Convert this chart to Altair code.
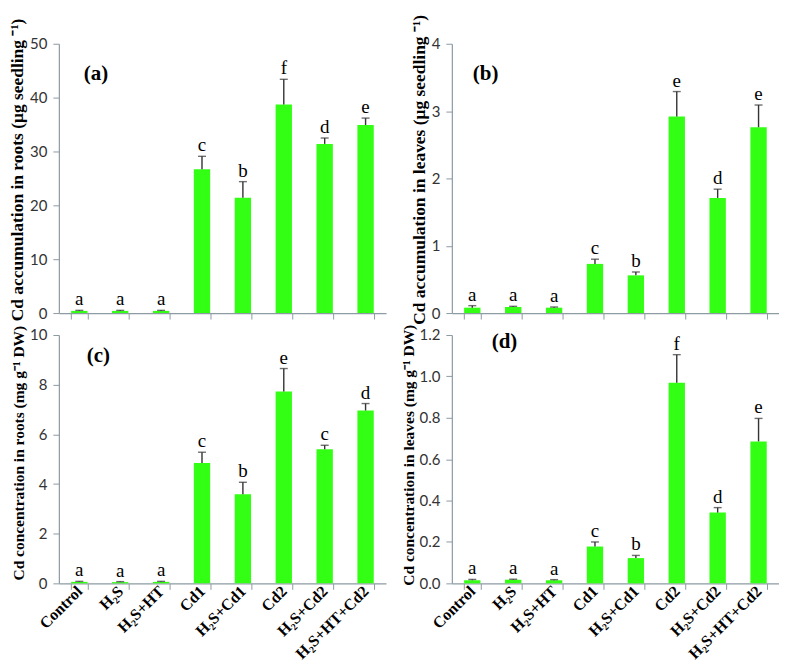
import altair as alt
import pandas as pd

categories = ["Control", "H₂S", "H₂S+HT", "Cd1", "H₂S+Cd1", "Cd2", "H₂S+Cd2", "H₂S+HT+Cd2"]

a_mean = [0.4, 0.4, 0.4, 26.7, 21.4, 38.7, 31.4, 34.9]
a_se = [0.1, 0.1, 0.1, 2.4, 3.0, 4.7, 1.1, 1.3]
a_letters = ["a", "a", "a", "c", "b", "f", "d", "e"]

b_mean = [0.08, 0.09, 0.08, 0.73, 0.56, 2.92, 1.71, 2.76]
b_se = [0.03, 0.01, 0.01, 0.07, 0.05, 0.37, 0.13, 0.33]
b_letters = ["a", "a", "a", "c", "b", "e", "d", "e"]

c_mean = [0.06, 0.05, 0.06, 4.85, 3.59, 7.73, 5.40, 6.96]
c_se = [0.02, 0.02, 0.02, 0.43, 0.48, 0.92, 0.16, 0.28]
c_letters = ["a", "a", "a", "c", "b", "e", "c", "d"]

d_mean = [0.015, 0.018, 0.015, 0.178, 0.122, 0.969, 0.342, 0.686]
d_se = [0.004, 0.002, 0.003, 0.022, 0.013, 0.136, 0.024, 0.111]
d_letters = ["a", "a", "a", "c", "b", "f", "d", "e"]

BAR = "#33ff14"
AXIS_GRAY = "#8d9ba3"
W = 328
H_TOP = 270
H_BOT = 249


def panel(mean, se, letters, title, tsize, ty, domain, ticks, fmt, label, show_labels,
          height, lx, ly):
    df = pd.DataFrame({
        "cat": categories,
        "mean": mean,
        "top": [m + s for m, s in zip(mean, se)],
        "letter": letters,
    })
    xaxis = alt.Axis(
        title=None,
        labels=show_labels,
        labelAngle=-45,
        labelAlign="right",
        labelBaseline="middle",
        tickBand="extent",
        labelFont="Liberation Serif",
        labelFontWeight="bold",
        labelFontSize=16,
        labelColor="black",
        labelPadding=-1,
        labelOverlap=False,
        labelLimit=300,
    )
    x = alt.X("cat:N", sort=categories,
              scale=alt.Scale(paddingInner=0.6, paddingOuter=0.3), axis=xaxis)
    yscale = alt.Scale(domain=domain, nice=False, zero=True)
    yaxis = alt.Axis(title=title, titleFontSize=tsize, titleY=ty, values=ticks, format=fmt,
                     grid=False, labelOverlap=False)
    base = alt.Chart(df).encode(x=x)
    bars = base.mark_bar(color=BAR).encode(y=alt.Y("mean:Q", scale=yscale, axis=yaxis))
    rule = base.mark_rule(color="#333333", strokeWidth=1.4).encode(y="mean:Q", y2="top:Q")
    cap = base.mark_tick(color="#333333", size=8, thickness=1.4).encode(y="top:Q")
    txt = base.mark_text(font="Liberation Serif", fontSize=19, color="black",
                         baseline="alphabetic", dy=-5).encode(y="top:Q", text="letter:N")
    lab = alt.Chart(pd.DataFrame({"t": [label]})).mark_text(
        font="Liberation Serif", fontSize=21, fontWeight="bold", color="black",
        align="left", baseline="alphabetic").encode(
        x=alt.value(lx), y=alt.value(ly), text="t:N")
    return alt.layer(bars, rule, cap, txt, lab).properties(width=W, height=height)


pa = panel(a_mean, a_se, a_letters, "Cd accumulation in roots (μg seedling ⁻¹)", 17.5, 126,
           [0, 50], list(range(0, 51, 5)), "d", "(a)", False, H_TOP, 25, 36)
pb = panel(b_mean, b_se, b_letters, "Cd accumulation in leaves (μg seedling ⁻¹)", 17.5, 126,
           [0, 4], [0, 1, 2, 3, 4], "d", "(b)", False, H_TOP, 21, 36)
pc = panel(c_mean, c_se, c_letters, "Cd concentration in roots (mg g⁻¹ DW)", 15.5, 118,
           [0, 10], [0, 2, 4, 6, 8, 10], "d", "(c)", True, H_BOT, 28, 27)
pd_ = panel(d_mean, d_se, d_letters, "Cd concentration in leaves (mg g⁻¹ DW)", 15.5, 120,
            [0, 1.2], [0, 0.2, 0.4, 0.6, 0.8, 1.0, 1.2], ".1f", "(d)", True, H_BOT, 40, 13)

chart = alt.concat(pa, pb, pc, pd_, columns=2, spacing={"row": 22, "column": 66},
                   bounds="flush").properties(
    padding={"left": 0, "top": 5, "right": 0, "bottom": 2},
    background="white",
).configure_view(stroke=None).configure_axis(
    domainColor=AXIS_GRAY, tickColor=AXIS_GRAY, tickSize=6, domainWidth=1.2,
).configure_axisY(
    labelFont="Lato", labelFontSize=15, labelColor="#333333", labelPadding=6,
    titleFont="Liberation Serif", titleFontWeight="bold",
    titleColor="black", titlePadding=3,
)

chart.save("out.html", embed_options={"renderer": "svg", "actions": False})
